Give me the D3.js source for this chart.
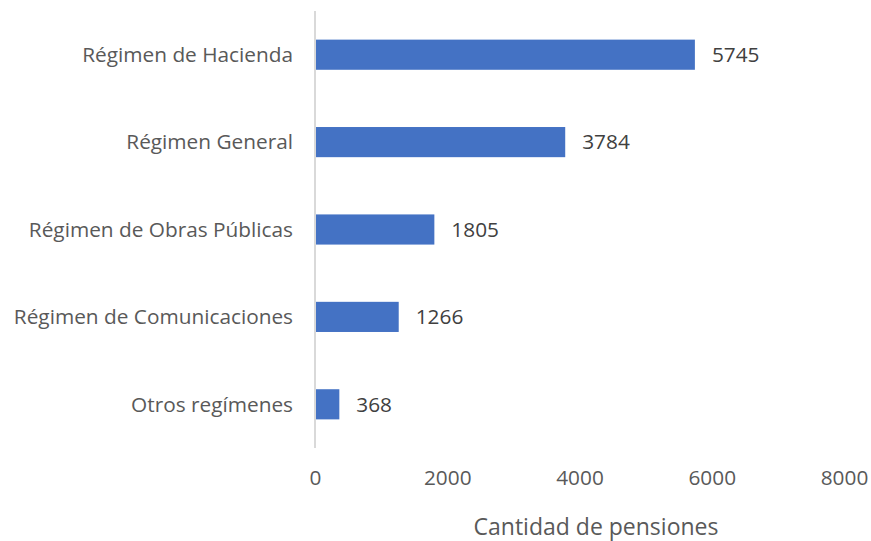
<!DOCTYPE html>
<html><head><meta charset="utf-8">
<script src="https://cdn.jsdelivr.net/npm/d3@7"></script>
<style>body{margin:0;background:#fff}svg{display:block}text{font-family:"Open Sans",sans-serif}</style>
</head><body><svg id="c" width="871" height="541"></svg>
<script>
const categories = ["Régimen de Hacienda","Régimen General","Régimen de Obras Públicas","Régimen de Comunicaciones","Otros regímenes"];
const values = [5745,3784,1805,1266,368];
const tickValues = [0,2000,4000,6000,8000];
const axisTitle = "Cantidad de pensiones";

const svg = d3.select("#c");
const x = d3.scaleLinear().domain([0,8000]).range([315,844]);
const y = d3.scaleBand().domain(categories).range([11,448]).paddingInner(0.655).paddingOuter(0.3275);

svg.append("line").attr("x1",315).attr("x2",315).attr("y1",11).attr("y2",448)
  .attr("stroke","#d9d9d9").attr("stroke-width",2);

svg.selectAll("rect.bar").data(values).join("rect").attr("class","bar")
  .attr("x",x(0)+1).attr("y",(d,i)=>y(categories[i]))
  .attr("width",d=>x(d)-x(0)-1).attr("height",y.bandwidth()).attr("fill","#4472c4");

svg.selectAll("text.cat").data(categories).join("text").attr("class","cat")
  .attr("x",293).attr("y",d=>y(d)+y.bandwidth()/2).attr("dy","0.35em")
  .attr("text-anchor","end").attr("font-size",20.8).attr("fill","#595959").text(d=>d);

svg.selectAll("text.val").data(values).join("text").attr("class","val")
  .attr("x",d=>x(d)+17).attr("y",(d,i)=>y(categories[i])+y.bandwidth()/2).attr("dy","0.35em")
  .attr("font-size",20.8).attr("fill","#404040").text(d=>d);

const ax = d3.axisBottom(x).tickValues(tickValues).tickSize(0).tickPadding(0).tickFormat(d3.format("d"));
const g = svg.append("g").attr("transform","translate(0,470)").call(ax);
g.select(".domain").remove();
g.selectAll("text").attr("font-size",20.8).attr("fill","#595959").attr("font-family","Open Sans, sans-serif");

svg.append("text").attr("x",596).attr("y",535).attr("text-anchor","middle")
  .attr("font-size",23).attr("fill","#595959").text(axisTitle);
</script></body></html>
